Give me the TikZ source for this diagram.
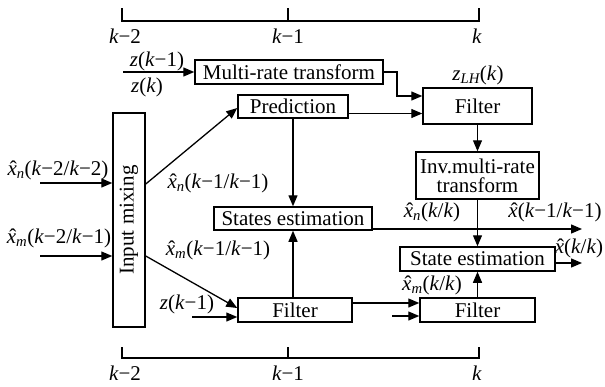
\documentclass[tikz,border=0pt]{standalone}
\usepackage{fontspec}
\setmainfont{Liberation Serif}
\usetikzlibrary{arrows.meta}
\newcommand{\fsz}{\fontsize{21}{19}\selectfont}
\newcommand{\xh}{\ooalign{\itshape x\cr\hidewidth\kern0.12em ˆ\hidewidth\cr}}
\newcommand{\sbi}[1]{\textsubscript{\itshape #1}}
\newcommand{\ki}{\textit{k}}
\tikzset{
  box/.style={draw, line width=1.5pt, inner sep=0pt, font=\fsz},
  arr/.style={line width=1.3pt, -{Triangle[length=11pt,width=9pt]}},
  lab/.style={anchor=base, inner sep=0pt, font=\fsz},
  tl/.style={line width=1.3pt},
}
\begin{document}
\begin{tikzpicture}[x=1pt,y=-1pt]
\useasboundingbox (0,0) rectangle (605,386);
% timelines
\coordinate (ta) at (122,8); \coordinate (tb) at (288,8); \coordinate (tc) at (479,8);
\coordinate (ta1) at (122,21); \coordinate (tb1) at (288,21); \coordinate (tc1) at (479,21);
\draw[tl] (ta) -- (ta1) -- (tc1) -- (tc); \draw[tl] (tb) -- (tb1);
\node[lab] (lka) at (125,43) {\ki−2};
\node[lab] (lkb) at (288,43) {\ki−1};
\node[lab] (lkc) at (477,43) {\ki};
\coordinate (ba) at (122,347); \coordinate (bb) at (288,347); \coordinate (bc) at (479,347);
\coordinate (ba1) at (122,358); \coordinate (bb1) at (288,358); \coordinate (bc1) at (479,358);
\draw[tl] (ba) -- (ba1) -- (bc1) -- (bc); \draw[tl] (bb) -- (bb1);
\node[lab] (blka) at (125,380) {\ki−2};
\node[lab] (blkb) at (288,380) {\ki−1};
\node[lab] (blkc) at (477,380) {\ki};
% boxes
\node[box, minimum width=188, minimum height=24] (mrt) at (289,72) {Multi-rate transform};
\node[box, minimum width=110, minimum height=23] (pred) at (293,106.5) {Prediction};
\node[box, minimum width=109, minimum height=36] (filt1) at (477.5,106) {Filter};
\node[box, minimum width=123, minimum height=47, align=center] (inv) at (477.5,175.5) {Inv.multi-rate\\transform};
\node[box, rotate=90, minimum width=214, minimum height=32] (mix) at (129,220) {Input mixing};
\node[box, minimum width=158, minimum height=23] (st) at (293,218.5) {States estimation};
\node[box, minimum width=155, minimum height=24] (se) at (477.5,259) {State estimation};
\node[box, minimum width=114, minimum height=24] (f2) at (295,310) {Filter};
\node[box, minimum width=115, minimum height=24] (f3) at (477.5,310) {Filter};
% helper coordinates
\coordinate (zin) at (123,72);
\coordinate (y96) at (0,96);
\coordinate (x397) at (397,0);
\coordinate (y113) at (0,113.5);
\coordinate (y184) at (0,184);
\coordinate (y108) at (0,108);
\coordinate (y256) at (0,256);
\coordinate (y308) at (0,308);
\coordinate (inA) at (40,183);
\coordinate (inB) at (40,256);
\coordinate (o1) at (582,229);
\coordinate (o2) at (582,263);
\coordinate (y303) at (0,303);
\coordinate (s3) at (392,316);
\coordinate (zb) at (192,317);
% connectors
\draw[arr] (zin) -- (mrt.west);
\draw[arr] (mrt.east) -| (x397 |- y96) -- (filt1.west |- y96);
\draw[arr] (pred.east |- y113) -- (filt1.west |- y113);
\draw[arr] (filt1.south) -- (inv.north);
\draw[arr] (inv.south) -- (se.north);
\draw[arr] (f3.north) -- (se.south);
\draw[arr] (inA) -- (mix.north |- inA);
\draw[arr] (inB) -- (mix.north |- inB);
\draw[arr] (mix.south |- y184) -- (pred.west |- y108);
\draw[arr] (mix.south |- y256) -- (f2.west |- y308);
\draw[arr] (pred.south) -- (st.north);
\draw[arr] (st.south |- f2.north) -- (st.south);
\draw[arr] (st.east |- o1) -- (o1);
\draw[arr] (se.east |- o2) -- (o2);
\draw[arr] (f2.east |- y303) -- (f3.west |- y303);
\draw[arr] (s3) -- (f3.west |- s3);
\draw[arr] (zb) -- (f2.west |- zb);
% labels
\node[lab] (lz1) at (157,66) {\textit{z}(\ki−1)};
\node[lab] (lz2) at (147,92) {\textit{z}(\ki)};
\node[lab] (lzlh) at (478,80) {\textit{z}\sbi{LH}(\ki)};
\node[lab] (lxn2) at (58,175) {\xh\sbi{n}(\ki−2/\ki−2)};
\node[lab] (lxm2) at (59,243) {\xh\sbi{m}(\ki−2/\ki−1)};
\node[lab] (lxn1) at (218,188) {\xh\sbi{n}(\ki−1/\ki−1)};
\node[lab] (lxm1) at (218,255) {\xh\sbi{m}(\ki−1/\ki−1)};
\node[lab] (lz3) at (187,309) {\textit{z}(\ki−1)};
\node[lab] (lxnk) at (432,217) {\xh\sbi{n}(\ki/\ki)};
\node[lab] (lxk1) at (555,217) {\xh(\ki−1/\ki−1)};
\node[lab] (lxk) at (579,253) {\xh(\ki/\ki)};
\node[lab] (lxmk) at (432,290) {\xh\sbi{m}(\ki/\ki)};
\end{tikzpicture}
\end{document}
